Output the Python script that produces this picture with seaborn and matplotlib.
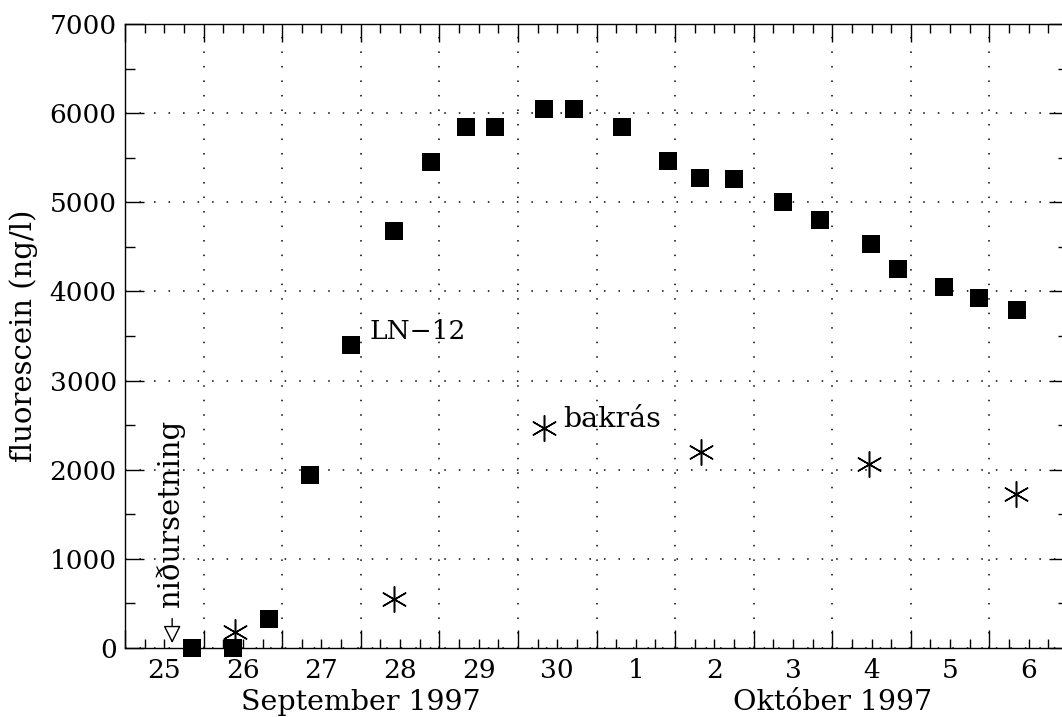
import matplotlib
matplotlib.use("Agg")
import matplotlib.pyplot as plt
import matplotlib.transforms as mtransforms
from matplotlib.ticker import MultipleLocator, NullFormatter, FuncFormatter
import pandas as pd
import seaborn as sns

# Sampling times in days after 25 Sep 1997 00:00, fluorescein in ng/l
ln12_days = [0.85, 1.38, 1.83, 2.36, 2.88, 3.42, 3.89, 4.34, 4.71, 5.33, 5.71,
             6.33, 6.91, 7.32, 7.75, 8.37, 8.84, 9.49, 9.84, 10.42, 10.87, 11.35]
ln12_conc = [0, 0, 330, 1940, 3400, 4680, 5455, 5845, 5845, 6045, 6045,
             5845, 5460, 5270, 5265, 5000, 4800, 4530, 4255, 4055, 3925, 3795]

bakras_days = [1.40, 3.42, 5.33, 7.33, 9.47, 11.34]
bakras_conc = [180, 550, 2470, 2200, 2065, 1725]

day_labels = ["25", "26", "27", "28", "29", "30", "1", "2", "3", "4", "5", "6"]
month_labels = ["September 1997", "Október 1997"]

sns.set_theme(style="ticks")
plt.rcParams["font.family"] = ["DejaVu Serif"]
plt.rcParams["text.color"] = "black"
plt.rcParams["axes.labelcolor"] = "black"
plt.rcParams["xtick.color"] = "black"
plt.rcParams["ytick.color"] = "black"

FS = 19

fig = plt.figure(figsize=(10.62, 7.17), dpi=100)
ax = fig.add_axes([125 / 1062, 69 / 717, 943 / 1062, 624 / 717])

ln12 = pd.DataFrame({"dagar": ln12_days, "styrkur": ln12_conc})
bakras = pd.DataFrame({"dagar": bakras_days, "styrkur": bakras_conc})

sns.scatterplot(data=ln12, x="dagar", y="styrkur", marker="s", s=175,
                color="black", linewidth=0, ax=ax, clip_on=False, zorder=4)
sns.scatterplot(data=bakras, x="dagar", y="styrkur", marker=(6, 2, 0), s=340,
                color="black", linewidth=1.1, ax=ax, clip_on=False, zorder=4)

ax.set_xlim(0, 12)
ax.set_ylim(0, 7000)

# x axis: day boundaries as major ticks, quarter days as minor, day names at noon
ax.xaxis.set_major_locator(MultipleLocator(1))
ax.xaxis.set_minor_locator(MultipleLocator(0.25))
ax.xaxis.set_major_formatter(NullFormatter())


def noon_label(v, pos):
    frac = v % 1
    i = int(v)
    if abs(frac - 0.5) < 1e-6 and 0 <= i < len(day_labels):
        return day_labels[i]
    return ""


ax.xaxis.set_minor_formatter(FuncFormatter(noon_label))

ax.yaxis.set_major_locator(MultipleLocator(1000))
ax.yaxis.set_minor_locator(MultipleLocator(500))

ax.tick_params(axis="both", which="both", direction="in", top=True, right=True,
               width=1.0, labelsize=FS)
ax.tick_params(axis="x", which="major", length=12.7)
ax.tick_params(axis="x", which="minor", length=6.3, pad=7)
ax.tick_params(axis="y", which="major", length=13.4, pad=6)
ax.tick_params(axis="y", which="minor", length=7.4)

for sp in ax.spines.values():
    sp.set_color("black")
    sp.set_linewidth(1.0)

ax.grid(True, which="major", color="black", linestyle=(0, (1, 8.5)), linewidth=1.1)
ax.set_axisbelow(True)

ax.set_xlabel("")
ax.set_ylabel("fluorescein (ng/l)", fontsize=21)
ax.yaxis.set_label_coords(-0.092, 0.5)

# month names under the day numbers
blend = mtransforms.blended_transform_factory(ax.transData, ax.transAxes)
ax.text(3.0, -0.099, month_labels[0], transform=blend, ha="center",
        va="baseline", fontsize=20.5)
ax.text(9.0, -0.099, month_labels[1], transform=blend, ha="center",
        va="baseline", fontsize=20.5)

# series labels
ax.text(3.11, 3461, "LN\u221212", fontsize=FS, ha="left", va="baseline")
ax.text(5.58, 2483, "bakrás", fontsize=20.5, ha="left", va="baseline")

# injection marker
ax.annotate("", xy=(0.60, 55), xytext=(0.60, 330),
            arrowprops=dict(arrowstyle="-|>,head_length=0.9,head_width=0.45",
                            facecolor="white", edgecolor="black", lw=1.0,
                            shrinkA=0, shrinkB=0),
            annotation_clip=False, zorder=5)
ax.text(0.57, 460, "niðursetning", rotation=90, ha="center", va="bottom",
        fontsize=21)

fig.savefig("out.png", dpi=100, facecolor="white")
